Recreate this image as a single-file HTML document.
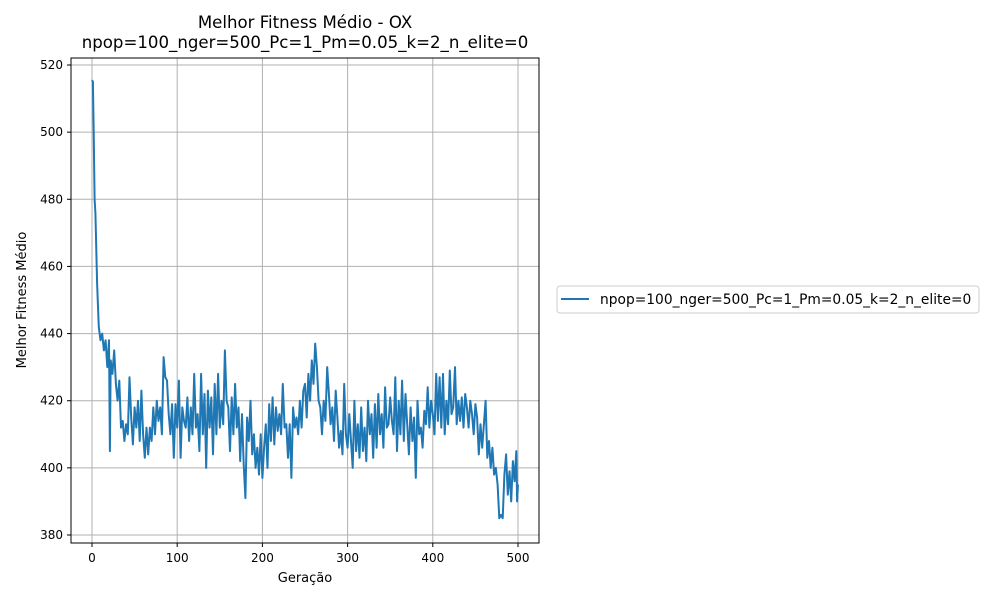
<!DOCTYPE html>
<html><head><meta charset="utf-8"><style>
body{margin:0;background:#fff;font-family:"Liberation Sans","DejaVu Sans",sans-serif}
svg text{font-family:"DejaVu Sans","Liberation Sans",sans-serif}
</style></head><body>
<svg id="chart" width="1000" height="600" xmlns="http://www.w3.org/2000/svg">
<rect width="1000" height="600" fill="#fff"/>
<text x="305" y="28" text-anchor="middle" font-size="16.6">Melhor Fitness Médio - OX</text>
<text x="305" y="48" text-anchor="middle" font-size="16.6">npop=100_nger=500_Pc=1_Pm=0.05_k=2_n_elite=0</text>
<g id="grid"></g><g id="ticks"></g>
<path id="line" fill="none" stroke="#1f77b4" stroke-width="2" stroke-linejoin="round"/>
<rect x="71" y="58" width="468" height="485" fill="none" stroke="#000" stroke-width="1"/>
<text x="305" y="582" text-anchor="middle" font-size="13">Geração</text>
<text transform="translate(26,300) rotate(-90)" text-anchor="middle" font-size="13">Melhor Fitness Médio</text>
<g>
<rect x="557" y="286" width="422" height="27" rx="3" fill="#fff" stroke="#ccc"/>
<line x1="561" y1="299" x2="589" y2="299" stroke="#1f77b4" stroke-width="2"/>
<text x="600" y="304" font-size="13.8">npop=100_nger=500_Pc=1_Pm=0.05_k=2_n_elite=0</text>
</g>
</svg>
<script>
const gens=[0,1,2,3,4,5,6,7,8,10,12,14,16,18,20,21,22,24,26,28,30,32,34,36,38,40,42,44,46,48,50,52,54,56,58,60,62,64,66,68,70,72,74,76,78,80,82,84,86,88,90,92,94,96,98,100,102,104,106,108,110,112,114,116,118,120,122,124,126,128,130,132,134,136,138,140,142,144,146,148,150,152,154,156,158,160,162,164,166,168,170,172,174,176,178,180,182,184,186,188,190,192,194,196,198,200,202,204,206,208,210,212,214,216,218,220,222,224,226,228,230,232,234,236,238,240,242,244,246,248,250,252,254,256,258,260,262,264,266,268,270,272,274,276,278,280,282,284,286,288,290,292,294,296,298,300,302,304,306,308,310,312,314,316,318,320,322,324,326,328,330,332,334,336,338,340,342,344,346,348,350,352,354,356,358,360,362,364,366,368,370,372,374,376,378,380,382,384,386,388,390,392,394,396,398,400,402,404,406,408,410,412,414,416,418,420,422,424,426,428,430,432,434,436,438,440,442,444,446,448,450,452,454,456,458,460,462,464,466,468,470,472,474,476,478,480,482,484,486,488,490,492,494,496,498,499,500];
const fitness=[515.5,515,500,480,476,465,455,448,442,438,440,435,438,430,438,405,432,428,435,425,420,426,412,414,408,413,410,427,415,407,418,412,420,408,423,410,403,412,404,412,408,418,410,420,414,418,410,433,427,426,416,410,419,403,419,412,426,403,418,414,412,421,408,418,410,428,412,416,405,428,410,422,400,423,412,421,404,425,410,428,412,420,413,435,420,418,405,421,410,425,412,418,402,416,401,391,415,408,420,404,410,400,406,398,410,397,406,413,400,419,408,421,407,418,411,416,410,425,412,413,403,413,397,418,412,415,410,420,412,423,425,415,428,420,432,425,437,430,420,418,410,420,414,430,422,413,418,408,423,415,406,411,404,425,410,406,416,408,400,420,405,413,403,418,405,412,402,420,410,416,403,419,406,422,410,416,406,424,412,413,421,414,410,427,405,420,410,426,408,422,413,404,418,408,415,397,420,410,412,406,417,413,424,412,420,416,410,428,414,427,412,428,410,420,413,429,416,418,430,413,420,414,421,412,422,418,412,420,416,410,419,415,404,413,406,413,420,403,408,400,406,398,400,395,385,386,385,398,404,392,399,390,402,396,405,390,395];
const xTicks=[0,100,200,300,400,500];
const yTicks=[380,400,420,440,460,480,500,520];
const X=v=>92+v*(518-92)/500;
const Y=v=>65+(520-v)*470/140;
const NS='http://www.w3.org/2000/svg';
const grid=document.getElementById('grid'),ticks=document.getElementById('ticks');
function mk(tag,attrs,parent){const e=document.createElementNS(NS,tag);for(const k in attrs)e.setAttribute(k,attrs[k]);parent.appendChild(e);return e;}
xTicks.forEach(t=>{
 const g=mk('line',{x1:X(t),x2:X(t),y1:58,y2:543,stroke:'#b0b0b0','stroke-width':1},grid);
 
 
 mk('line',{x1:X(t),x2:X(t),y1:543,y2:547,stroke:'#000'},ticks);
 const tx=mk('text',{x:X(t),y:562,'text-anchor':'middle','font-size':12},ticks);
 tx.textContent=t;
 
 
});
yTicks.forEach(t=>{
 const g=mk('line',{x1:71,x2:539,y1:Y(t),y2:Y(t),stroke:'#b0b0b0','stroke-width':1},grid);
 
 
 mk('line',{x1:67,x2:71,y1:Y(t),y2:Y(t),stroke:'#000'},ticks);
 const tx=mk('text',{x:63,y:Y(t)+4,'text-anchor':'end','font-size':12},ticks);
 tx.textContent=t;
 
 
});
document.getElementById('line').setAttribute('d',gens.map((g,i)=>(i?'L':'M')+X(g).toFixed(1)+','+Y(fitness[i]).toFixed(1)).join(''));
</script>
</body></html>
